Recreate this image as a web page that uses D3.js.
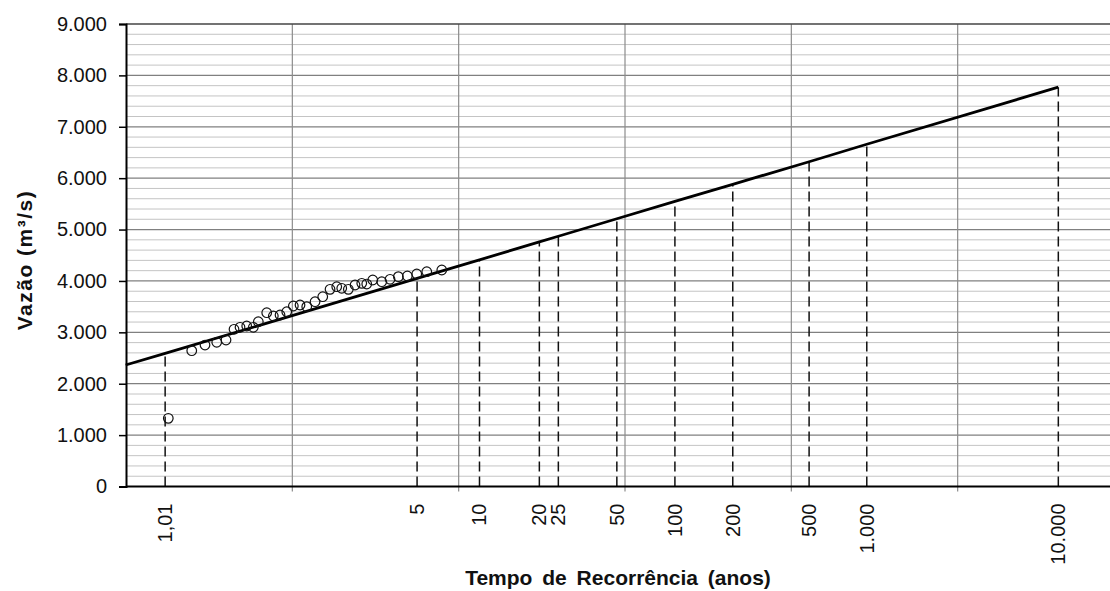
<!DOCTYPE html>
<html>
<head>
<meta charset="utf-8">
<script src="https://cdn.jsdelivr.net/npm/d3@7"></script>
<style>
  body { margin: 0; background: #fff; }
  svg { display: block; font-family: "Liberation Sans", Arial, sans-serif; }
</style>
</head>
<body>
<svg id="chart"></svg>
<script>
// return periods marked on the x axis (years)
const returnPeriods = [1.01, 5, 10, 20, 25, 50, 100, 200, 500, 1000, 10000];
const periodLabels = ["1,01", "5", "10", "20", "25", "50", "100", "200", "500", "1.000", "10.000"];
// fitted Gumbel flows at those periods (m3/s)
const fittedFlows = [2590, 4050, 4410, 4760, 4870, 5210, 5550, 5880, 6320, 6660, 7770];
// the fitted line also starts at the left border of the plot
const lineStartT = 1.0006;
const lineStartFlow = 2364;

// observed annual maxima (plotting position T, flow)
const obsT = [1.0119, 1.0363, 1.0609, 1.0912, 1.1219, 1.1536, 1.181, 1.2153, 1.2535, 1.2853,
  1.345, 1.3978, 1.457, 1.5224, 1.5932, 1.6719, 1.7584, 1.8769, 1.9987, 2.1262,
  2.2542, 2.3571, 2.5034, 2.6649, 2.8403, 2.9806, 3.1612, 3.4589, 3.7639, 4.1019,
  4.508, 4.9826, 5.5516, 6.5454];
const obsQ = [1327, 2643, 2753, 2806, 2851, 3059, 3098, 3123, 3098, 3207,
  3382, 3318, 3337, 3401, 3512, 3532, 3499, 3596, 3693, 3837,
  3888, 3857, 3837, 3921, 3954, 3940, 4018, 3985, 4032, 4083,
  4096, 4135, 4180, 4213];

const yTicks = d3.range(0, 9001, 1000);
const yMinor = d3.range(0, 9001, 200);
const xGrid = d3.range(-2, 10.1, 2); // Gumbel reduced variate

const margin = { top: 24, right: 0, bottom: 105, left: 126 };
const width = 998;
const height = 462.5;

const svg = d3.select("#chart")
  .attr("width", 1110)
  .attr("height", 591);

const g = svg.append("g")
  .attr("transform", `translate(${margin.left}, ${margin.top})`);

const gumbel = (T) => -Math.log(-Math.log(1 - 1 / T));
const x = d3.scaleLinear().domain([-2, 10]).range([0, width]);
const y = d3.scaleLinear().domain([0, 9000]).range([height, 0]);
const xT = (T) => x(gumbel(T));

const br = d3.formatLocale({ decimal: ",", thousands: ".", grouping: [3], currency: ["", ""] });
const fmt = br.format(",");

// minor horizontal grid
g.append("g")
  .selectAll("line")
  .data(yMinor.filter((v) => v % 1000 !== 0))
  .join("line")
  .attr("x1", 0).attr("x2", width)
  .attr("y1", (d) => y(d)).attr("y2", (d) => y(d))
  .attr("stroke", "#c4c4c4").attr("stroke-width", 1);

// major horizontal grid
g.append("g")
  .selectAll("line")
  .data(yTicks.filter((v) => v > 0 && v < 9000))
  .join("line")
  .attr("x1", 0).attr("x2", width)
  .attr("y1", (d) => y(d)).attr("y2", (d) => y(d))
  .attr("stroke", "#808080").attr("stroke-width", 1.2);

// vertical grid
g.append("g")
  .selectAll("line")
  .data(xGrid.filter((v) => v > -2))
  .join("line")
  .attr("x1", (d) => x(d)).attr("x2", (d) => x(d))
  .attr("y1", 0).attr("y2", height + 5)
  .attr("stroke", "#8c8c8c").attr("stroke-width", 1.2);

// top border
g.append("line")
  .attr("x1", 0).attr("x2", width)
  .attr("y1", 0).attr("y2", 0)
  .attr("stroke", "#444").attr("stroke-width", 1.5);

// dashed drop lines from each return period up to the fitted line
g.append("g")
  .selectAll("line")
  .data(returnPeriods)
  .join("line")
  .attr("x1", (d) => xT(d)).attr("x2", (d) => xT(d))
  .attr("y1", height)
  .attr("y2", (d, i) => y(fittedFlows[i]))
  .attr("stroke", "#111")
  .attr("stroke-width", 1.5)
  .attr("stroke-dasharray", "10,5");

// fitted line
const fitPts = [[lineStartT, lineStartFlow]].concat(returnPeriods.map((t, i) => [t, fittedFlows[i]]));
g.append("path")
  .datum(fitPts)
  .attr("fill", "none")
  .attr("stroke", "#000")
  .attr("stroke-width", 2.8)
  .attr("d", d3.line().x((d) => xT(d[0])).y((d) => y(d[1])));

// observed points
g.append("g")
  .selectAll("circle")
  .data(obsT)
  .join("circle")
  .attr("cx", (d) => xT(d))
  .attr("cy", (d, i) => y(obsQ[i]))
  .attr("r", 4.8)
  .attr("fill", "none")
  .attr("stroke", "#111")
  .attr("stroke-width", 1.2);

// y axis
const yAxis = g.append("g")
  .call(d3.axisLeft(y).tickValues(yTicks).tickFormat(fmt).tickSize(7).tickPadding(12));
yAxis.select(".domain").attr("stroke", "#000").attr("stroke-width", 2);
yAxis.selectAll(".tick line").attr("stroke", "#000").attr("stroke-width", 1.5);
yAxis.selectAll("text")
  .style("font-size", "20px")
  .attr("fill", "#111");

// x axis line
g.append("line")
  .attr("x1", 0).attr("x2", width)
  .attr("y1", height).attr("y2", height)
  .attr("stroke", "#000").attr("stroke-width", 2);

// x tick labels (rotated)
g.append("g")
  .selectAll("text")
  .data(returnPeriods)
  .join("text")
  .attr("transform", (d) => `translate(${xT(d)}, ${height + 17}) rotate(-90)`)
  .attr("text-anchor", "end")
  .attr("dy", "0.35em")
  .style("font-size", "20px")
  .attr("fill", "#111")
  .text((d, i) => periodLabels[i]);

// axis titles
svg.append("text")
  .attr("x", 618)
  .attr("y", 585)
  .attr("text-anchor", "middle")
  .style("font-size", "21px")
  .style("font-weight", "bold")
  .style("word-spacing", "4px")
  .attr("fill", "#111")
  .text("Tempo de Recorrência (anos)");

svg.append("text")
  .attr("transform", "translate(32, 260) rotate(-90)")
  .attr("text-anchor", "middle")
  .style("font-size", "21px")
  .style("font-weight", "bold")
  .style("letter-spacing", "1.5px")
  .attr("fill", "#111")
  .text("Vazão (m³/s)");
</script>
</body>
</html>
